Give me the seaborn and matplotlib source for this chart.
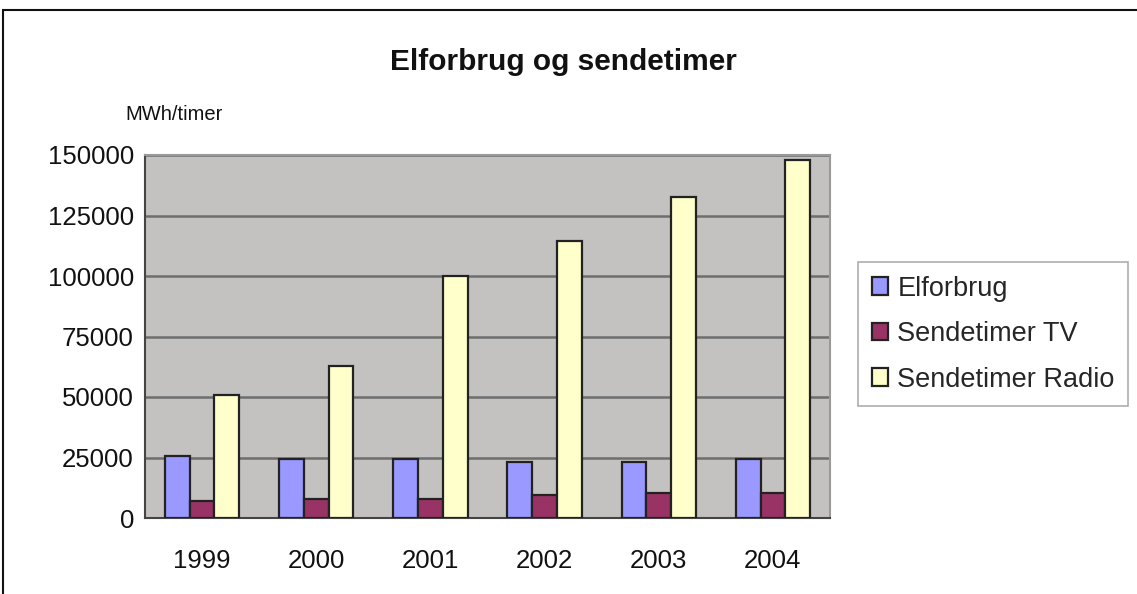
import matplotlib
matplotlib.use("Agg")
import matplotlib.pyplot as plt
import seaborn as sns
import pandas as pd
from matplotlib.patches import Rectangle

years = ["1999", "2000", "2001", "2002", "2003", "2004"]
elforbrug = [25500, 24300, 24300, 23200, 23200, 24300]
sendetimer_tv = [7000, 7800, 7900, 9500, 10500, 10500]
sendetimer_radio = [51000, 63000, 100000, 114500, 132500, 148000]
series_names = ["Elforbrug", "Sendetimer TV", "Sendetimer Radio"]
colors = ["#9999ff", "#993366", "#ffffcc"]

rows = []
for name, vals in zip(series_names, [elforbrug, sendetimer_tv, sendetimer_radio]):
    for y, v in zip(years, vals):
        rows.append({"year": y, "series": name, "value": v})
df = pd.DataFrame(rows)

sns.set_style("white")
plt.rcParams["font.family"] = ["Liberation Sans", "DejaVu Sans"]

W, H = 1137, 594
fig = plt.figure(figsize=(W / 100, H / 100), dpi=100)
ax = fig.add_axes([145 / W, 1 - 518 / H, (830 - 145) / W, (518 - 155) / H])

sns.barplot(data=df, x="year", y="value", hue="series", hue_order=series_names,
            palette=colors, width=0.65, edgecolor="#222222", linewidth=1.6,
            saturation=1, ax=ax, zorder=3)

FS = 18.5
ax.set_facecolor("#c4c2c0")
ax.set_ylim(0, 150000)
ax.set_xlim(-0.5, 5.5)
ax.set_yticks([0, 25000, 50000, 75000, 100000, 125000, 150000])
ax.set_yticklabels(["0", "25000", "50000", "75000", "100000", "125000", "150000"], fontsize=FS)
ax.yaxis.grid(True, color="#6e6e6e", linewidth=1.8, zorder=0)
ax.set_axisbelow(True)
ax.set_xlabel("")
ax.set_ylabel("")
ax.tick_params(axis="x", which="major", length=0, labelsize=FS, pad=22, colors="#111111")
ax.set_xticks([i - 0.5 for i in range(7)], minor=True)
ax.tick_params(axis="x", which="minor", length=5, color="#555555", width=1)
ax.tick_params(axis="y", length=5, color="#555555", width=1, pad=3, colors="#111111")
for s in ["left", "bottom"]:
    ax.spines[s].set_color("#444444")
    ax.spines[s].set_linewidth(1.5)
for s in ["top", "right"]:
    ax.spines[s].set_color("#999999")
    ax.spines[s].set_linewidth(1.5)

leg = ax.legend(loc="upper left", bbox_to_anchor=(858 / W, 1 - 262 / H),
                bbox_transform=fig.transFigure, fontsize=19.5, frameon=True,
                fancybox=False, edgecolor="#999999", handlelength=0.6,
                handleheight=0.6, handletextpad=0.35, labelspacing=0.72,
                borderpad=0.5, borderaxespad=0, title=None)
leg.get_frame().set_linewidth(1.2)

fig.text(563 / W, 1 - 62 / H, "Elforbrug og sendetimer", ha="center", va="center",
         fontsize=21.5, fontweight="bold", color="#111111")
fig.text(125 / W, 1 - 114 / H, "MWh/timer", ha="left", va="center",
         fontsize=14.5, color="#111111")

fig.patches.append(Rectangle((3 / W, -0.02), 1.05, 1 - 10 / H + 0.02,
                             transform=fig.transFigure, fill=False,
                             edgecolor="#111111", linewidth=1.5))

fig.savefig("out.png", dpi=100, facecolor="white")
